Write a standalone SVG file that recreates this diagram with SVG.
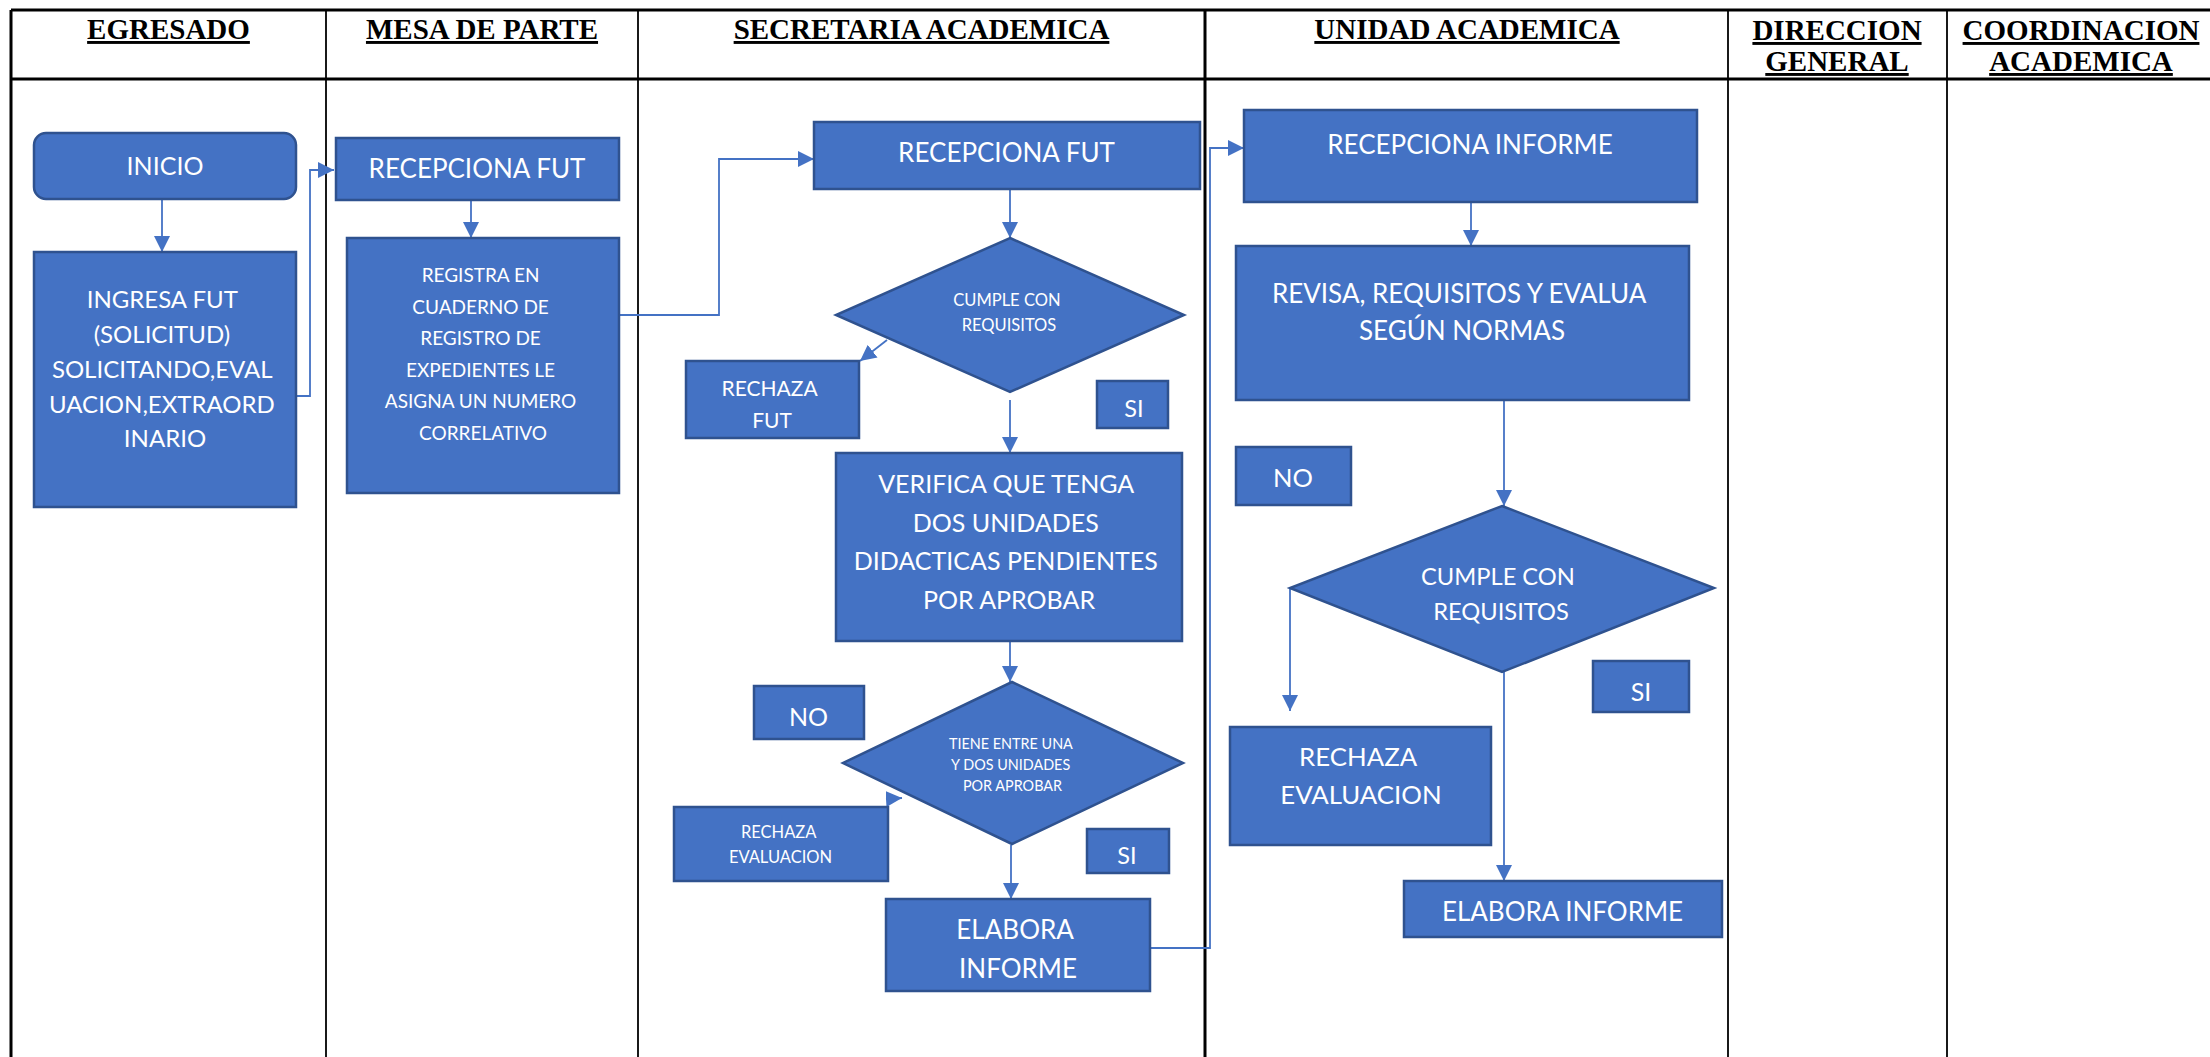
<svg xmlns="http://www.w3.org/2000/svg" width="2210" height="1057" viewBox="0 0 2210 1057">
  <style>
    .lane { stroke: #000; fill: none; }
    .thick { stroke-width: 3; }
    .thin { stroke-width: 1.8; }
    .head { font-family: "Liberation Serif", "Times New Roman", serif; font-weight: bold; font-size: 29px; text-anchor: middle; text-decoration: underline; fill: #000; }
    .box { fill: #4472C4; stroke: #2F528F; stroke-width: 2.5; }
    .lbl { font-family: Lato, "Noto Sans", sans-serif; fill: #fff; text-anchor: middle; }
    .conn path { stroke: #4472C4; stroke-width: 1.8; fill: none; marker-end: url(#arrow); }
  </style>
  <defs>
    <marker id="arrow" markerUnits="userSpaceOnUse" markerWidth="16" markerHeight="16" viewBox="0 0 16 16" refX="16" refY="8" orient="auto">
      <path d="M0,0 L16,8 L0,16 Z" fill="#4472C4"/>
    </marker>
  </defs>

  <rect width="2210" height="1057" fill="#fff"/>

  <!-- swimlane table -->
  <g id="lanes">
    <line class="lane thick" x1="11" y1="10" x2="2210" y2="10"/>
    <line class="lane thick" x1="11" y1="79" x2="2210" y2="79"/>
    <line class="lane thick" x1="11" y1="10" x2="11" y2="1057"/>
    <line class="lane thin" x1="326" y1="10" x2="326" y2="1057"/>
    <line class="lane thin" x1="638" y1="10" x2="638" y2="1057"/>
    <line class="lane thick" x1="1205" y1="10" x2="1205" y2="1057"/>
    <line class="lane thin" x1="1728" y1="10" x2="1728" y2="1057"/>
    <line class="lane thin" x1="1947" y1="10" x2="1947" y2="1057"/>
    <text class="head" x="168.5" y="39">EGRESADO</text>
    <text class="head" x="482" y="39">MESA DE PARTE</text>
    <text class="head" x="921.5" y="39">SECRETARIA ACADEMICA</text>
    <text class="head" x="1467" y="39">UNIDAD ACADEMICA</text>
    <text class="head" x="1837" y="40">DIRECCION</text>
    <text class="head" x="1837" y="71">GENERAL</text>
    <text class="head" x="2081" y="40">COORDINACION</text>
    <text class="head" x="2081" y="71">ACADEMICA</text>
  </g>

  <!-- connectors -->
  <g id="connectors" class="conn">
    <path d="M162,200 V252"/>
    <path d="M296,396 H310 V170 H334"/>
    <path d="M471,200 V238"/>
    <path d="M619,315 H719 V159 H814"/>
    <path d="M1010,189 V238"/>
    <path d="M887,340 L860,361"/>
    <path d="M1010,400 V453"/>
    <path d="M1010,641 V682"/>
    <path d="M886,799 L902,798"/>
    <path d="M1011,845 V899"/>
    <path d="M1150,948 H1210 V148 H1244"/>
    <path d="M1471,202 V246"/>
    <path d="M1504,400 V506"/>
    <path d="M1290,588 V711"/>
    <path d="M1504,672 V881"/>
  </g>

  <!-- EGRESADO -->
  <g id="inicio">
    <rect class="box" x="34" y="133" width="262" height="66" rx="12"/>
    <text class="lbl" x="165" y="175" font-size="25">INICIO</text>
  </g>
  <g id="ingresa-fut">
    <rect class="box" x="34" y="252" width="262" height="255"/>
    <text class="lbl" font-size="24">
      <tspan x="165" y="307.6">INGRESA FUT</tspan>
      <tspan x="165" y="342.6">(SOLICITUD)</tspan>
      <tspan x="165" y="378">SOLICITANDO,EVAL</tspan>
      <tspan x="165" y="412.6">UACION,EXTRAORD</tspan>
      <tspan x="165" y="447">INARIO</tspan>
    </text>
  </g>

  <!-- MESA DE PARTE -->
  <g id="mesa-recepciona-fut">
    <rect class="box" x="336" y="138" width="283" height="62"/>
    <text class="lbl" x="477" y="178.4" font-size="26">RECEPCIONA FUT</text>
  </g>
  <g id="registra">
    <rect class="box" x="347" y="238" width="272" height="255"/>
    <text class="lbl" font-size="19">
      <tspan x="483" y="282.3">REGISTRA EN</tspan>
      <tspan x="483" y="313.8">CUADERNO DE</tspan>
      <tspan x="483" y="345.3">REGISTRO DE</tspan>
      <tspan x="483" y="376.8">EXPEDIENTES LE</tspan>
      <tspan x="483" y="408.3">ASIGNA UN NUMERO</tspan>
      <tspan x="483" y="439.8">CORRELATIVO</tspan>
    </text>
  </g>

  <!-- SECRETARIA ACADEMICA -->
  <g id="sec-recepciona-fut">
    <rect class="box" x="814" y="122" width="386" height="67"/>
    <text class="lbl" x="1006.5" y="161.7" font-size="26">RECEPCIONA FUT</text>
  </g>
  <g id="sec-cumple">
    <polygon class="box" points="1010,238 1184,315 1010,392 836,315"/>
    <text class="lbl" font-size="16.5">
      <tspan x="1009" y="306">CUMPLE CON</tspan>
      <tspan x="1009" y="331">REQUISITOS</tspan>
    </text>
  </g>
  <g id="rechaza-fut">
    <rect class="box" x="686" y="361" width="173" height="77"/>
    <text class="lbl" font-size="21">
      <tspan x="772" y="396">RECHAZA</tspan>
      <tspan x="772" y="427.6">FUT</tspan>
    </text>
  </g>
  <g id="sec-si-1">
    <rect class="box" x="1097" y="381" width="71" height="47"/>
    <text class="lbl" x="1134" y="416.5" font-size="23.5">SI</text>
  </g>
  <g id="verifica">
    <rect class="box" x="836" y="453" width="346" height="188"/>
    <text class="lbl" font-size="25">
      <tspan x="1009" y="493">VERIFICA QUE TENGA</tspan>
      <tspan x="1009" y="531.7">DOS UNIDADES</tspan>
      <tspan x="1009" y="570.3">DIDACTICAS PENDIENTES</tspan>
      <tspan x="1009" y="609">POR APROBAR</tspan>
    </text>
  </g>
  <g id="tiene-entre">
    <polygon class="box" points="1012,682 1183,763 1012,844 843,763"/>
    <text class="lbl" font-size="14.4">
      <tspan x="1012.5" y="749.2">TIENE ENTRE UNA</tspan>
      <tspan x="1012.5" y="770.2">Y DOS UNIDADES</tspan>
      <tspan x="1012.5" y="791.2">POR APROBAR</tspan>
    </text>
  </g>
  <g id="sec-no">
    <rect class="box" x="754" y="686" width="110" height="53"/>
    <text class="lbl" x="808.6" y="725.7" font-size="25">NO</text>
  </g>
  <g id="sec-rechaza-evaluacion">
    <rect class="box" x="674" y="807" width="214" height="74"/>
    <text class="lbl" font-size="16.5">
      <tspan x="780.5" y="838.2">RECHAZA</tspan>
      <tspan x="780.5" y="862.6">EVALUACION</tspan>
    </text>
  </g>
  <g id="sec-si-2">
    <rect class="box" x="1087" y="829" width="82" height="44"/>
    <text class="lbl" x="1127" y="863.5" font-size="23.5">SI</text>
  </g>
  <g id="sec-elabora-informe">
    <rect class="box" x="886" y="899" width="264" height="92"/>
    <text class="lbl" font-size="26">
      <tspan x="1018" y="939.4">ELABORA</tspan>
      <tspan x="1018" y="977.7">INFORME</tspan>
    </text>
  </g>

  <!-- UNIDAD ACADEMICA -->
  <g id="recepciona-informe">
    <rect class="box" x="1244" y="110" width="453" height="92"/>
    <text class="lbl" x="1470" y="153.7" font-size="26">RECEPCIONA INFORME</text>
  </g>
  <g id="revisa">
    <rect class="box" x="1236" y="246" width="453" height="154"/>
    <text class="lbl" font-size="26">
      <tspan x="1462" y="302.7">REVISA, REQUISITOS Y EVALUA</tspan>
      <tspan x="1462" y="340.4">SEGÚN NORMAS</tspan>
    </text>
  </g>
  <g id="ua-no">
    <rect class="box" x="1236" y="447" width="115" height="58"/>
    <text class="lbl" x="1293" y="486.9" font-size="25.5">NO</text>
  </g>
  <g id="ua-cumple">
    <polygon class="box" points="1502,506 1714,588 1502,672 1290,588"/>
    <text class="lbl" font-size="23.7">
      <tspan x="1501" y="584.5">CUMPLE CON</tspan>
      <tspan x="1501" y="620.2">REQUISITOS</tspan>
    </text>
  </g>
  <g id="ua-si">
    <rect class="box" x="1593" y="661" width="96" height="51"/>
    <text class="lbl" x="1641" y="700.7" font-size="25">SI</text>
  </g>
  <g id="ua-rechaza-evaluacion">
    <rect class="box" x="1230" y="727" width="261" height="118"/>
    <text class="lbl" font-size="25.8">
      <tspan x="1361" y="766">RECHAZA</tspan>
      <tspan x="1361" y="804.3">EVALUACION</tspan>
    </text>
  </g>
  <g id="ua-elabora-informe">
    <rect class="box" x="1404" y="881" width="318" height="56"/>
    <text class="lbl" x="1562.5" y="921" font-size="26">ELABORA INFORME</text>
  </g>
</svg>
